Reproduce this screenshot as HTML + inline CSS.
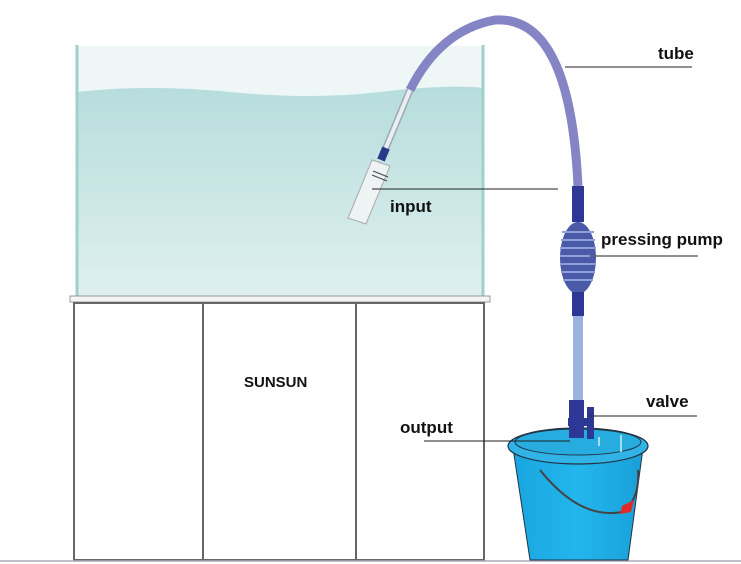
<!DOCTYPE html>
<html><head><meta charset="utf-8"><style>
html,body{margin:0;padding:0;background:#fff;width:741px;height:564px;overflow:hidden}
svg{display:block}
text{font-family:"Liberation Sans",sans-serif;font-weight:bold;fill:#111}
</style></head><body>
<svg width="741" height="564" viewBox="0 0 741 564" xmlns="http://www.w3.org/2000/svg">
<defs>
<linearGradient id="w" x1="0" y1="0" x2="0" y2="1">
<stop offset="0" stop-color="#b6dddc"/><stop offset="1" stop-color="#dff0ef"/></linearGradient>
<linearGradient id="b" x1="0" y1="0" x2="1" y2="0">
<stop offset="0" stop-color="#1aa6e0"/><stop offset="0.5" stop-color="#22b6ec"/><stop offset="1" stop-color="#1a9fd8"/></linearGradient>
</defs>
<rect x="77" y="46" width="406" height="250" fill="#eef7f6"/>
<path d="M77 92 Q150 84 230 92 T380 92 T483 88 L483 296 L77 296 Z" fill="url(#w)"/>
<line x1="77" y1="45" x2="77" y2="296" stroke="#9fd0cc" stroke-width="3"/>
<line x1="483" y1="45" x2="483" y2="296" stroke="#9fd0cc" stroke-width="3"/>
<rect x="70" y="296" width="420" height="6" fill="#f4f4f4" stroke="#999" stroke-width="1"/>
<rect x="74" y="303" width="410" height="257" fill="#fff" stroke="#666" stroke-width="2"/>
<line x1="203" y1="303" x2="203" y2="560" stroke="#666" stroke-width="2"/>
<line x1="356" y1="303" x2="356" y2="560" stroke="#666" stroke-width="2"/>
<text x="244" y="387" font-size="15">SUNSUN</text>
<line x1="0" y1="561" x2="741" y2="561" stroke="#aab" stroke-width="1.5"/>
<path d="M410 90 Q440 30 495 20 Q570 15 578 186" fill="none" stroke="#8585c6" stroke-width="9"/>
<line x1="410" y1="90" x2="385" y2="150" stroke="#a0a8b8" stroke-width="7"/>
<line x1="410" y1="90" x2="385" y2="150" stroke="#e8f0f0" stroke-width="4"/>
<line x1="386" y1="148" x2="381" y2="160" stroke="#2a3a8a" stroke-width="8"/>
<path d="M372 160 L390 166 L366 224 L348 218 Z" fill="#eef3f3" stroke="#aaa" stroke-width="1"/>
<line x1="373" y1="171" x2="388" y2="177" stroke="#444" stroke-width="1"/>
<line x1="372" y1="175" x2="387" y2="181" stroke="#444" stroke-width="1"/>
<rect x="572" y="186" width="12" height="36" fill="#2d3796"/>
<ellipse cx="578" cy="258" rx="18" ry="36" fill="#4a5aa8"/>
<g stroke="#8fa0d8" stroke-width="2">
<line x1="562" y1="232" x2="594" y2="232"/><line x1="561" y1="240" x2="595" y2="240"/>
<line x1="560" y1="248" x2="596" y2="248"/><line x1="560" y1="256" x2="596" y2="256"/>
<line x1="560" y1="264" x2="596" y2="264"/><line x1="561" y1="272" x2="595" y2="272"/>
<line x1="563" y1="280" x2="593" y2="280"/></g>
<rect x="572" y="292" width="12" height="24" fill="#2d3796"/>
<rect x="573" y="316" width="10" height="86" fill="#9cb2de"/>
<path d="M513 448 L643 448 L628 560 L530 560 Z" fill="url(#b)" stroke="#234" stroke-width="1"/>
<ellipse cx="578" cy="446" rx="70" ry="18" fill="#30b4e8" stroke="#234" stroke-width="1.2"/>
<ellipse cx="578" cy="442" rx="63" ry="13" fill="#27acdf" stroke="#234" stroke-width="1"/>
<path d="M540 470 Q580 520 622 512 Q640 500 638 470" fill="none" stroke="#444" stroke-width="2"/>
<path d="M622 506 L634 500 L631 512 L620 514Z" fill="#e02b2b"/>
<line x1="599" y1="437" x2="599" y2="446" stroke="#cfefff" stroke-width="1.5"/>
<line x1="621" y1="435" x2="621" y2="452" stroke="#cfefff" stroke-width="1.5"/>
<rect x="569" y="400" width="15" height="38" fill="#2d3796"/>
<rect x="587" y="407" width="7" height="32" fill="#2d3796"/>
<rect x="568" y="418" width="26" height="8" fill="#2d3796"/>
<text x="658" y="59" font-size="17">tube</text>
<line x1="565" y1="67" x2="692" y2="67" stroke="#222" stroke-width="1"/>
<text x="390" y="212" font-size="17">input</text>
<line x1="372" y1="189" x2="558" y2="189" stroke="#222" stroke-width="1"/>
<text x="601" y="245" font-size="17">pressing pump</text>
<line x1="590" y1="256" x2="698" y2="256" stroke="#222" stroke-width="1"/>
<text x="646" y="407" font-size="17">valve</text>
<line x1="590" y1="416" x2="697" y2="416" stroke="#222" stroke-width="1"/>
<text x="400" y="433" font-size="17">output</text>
<line x1="424" y1="441" x2="570" y2="441" stroke="#222" stroke-width="1"/>
</svg>
</body></html>
